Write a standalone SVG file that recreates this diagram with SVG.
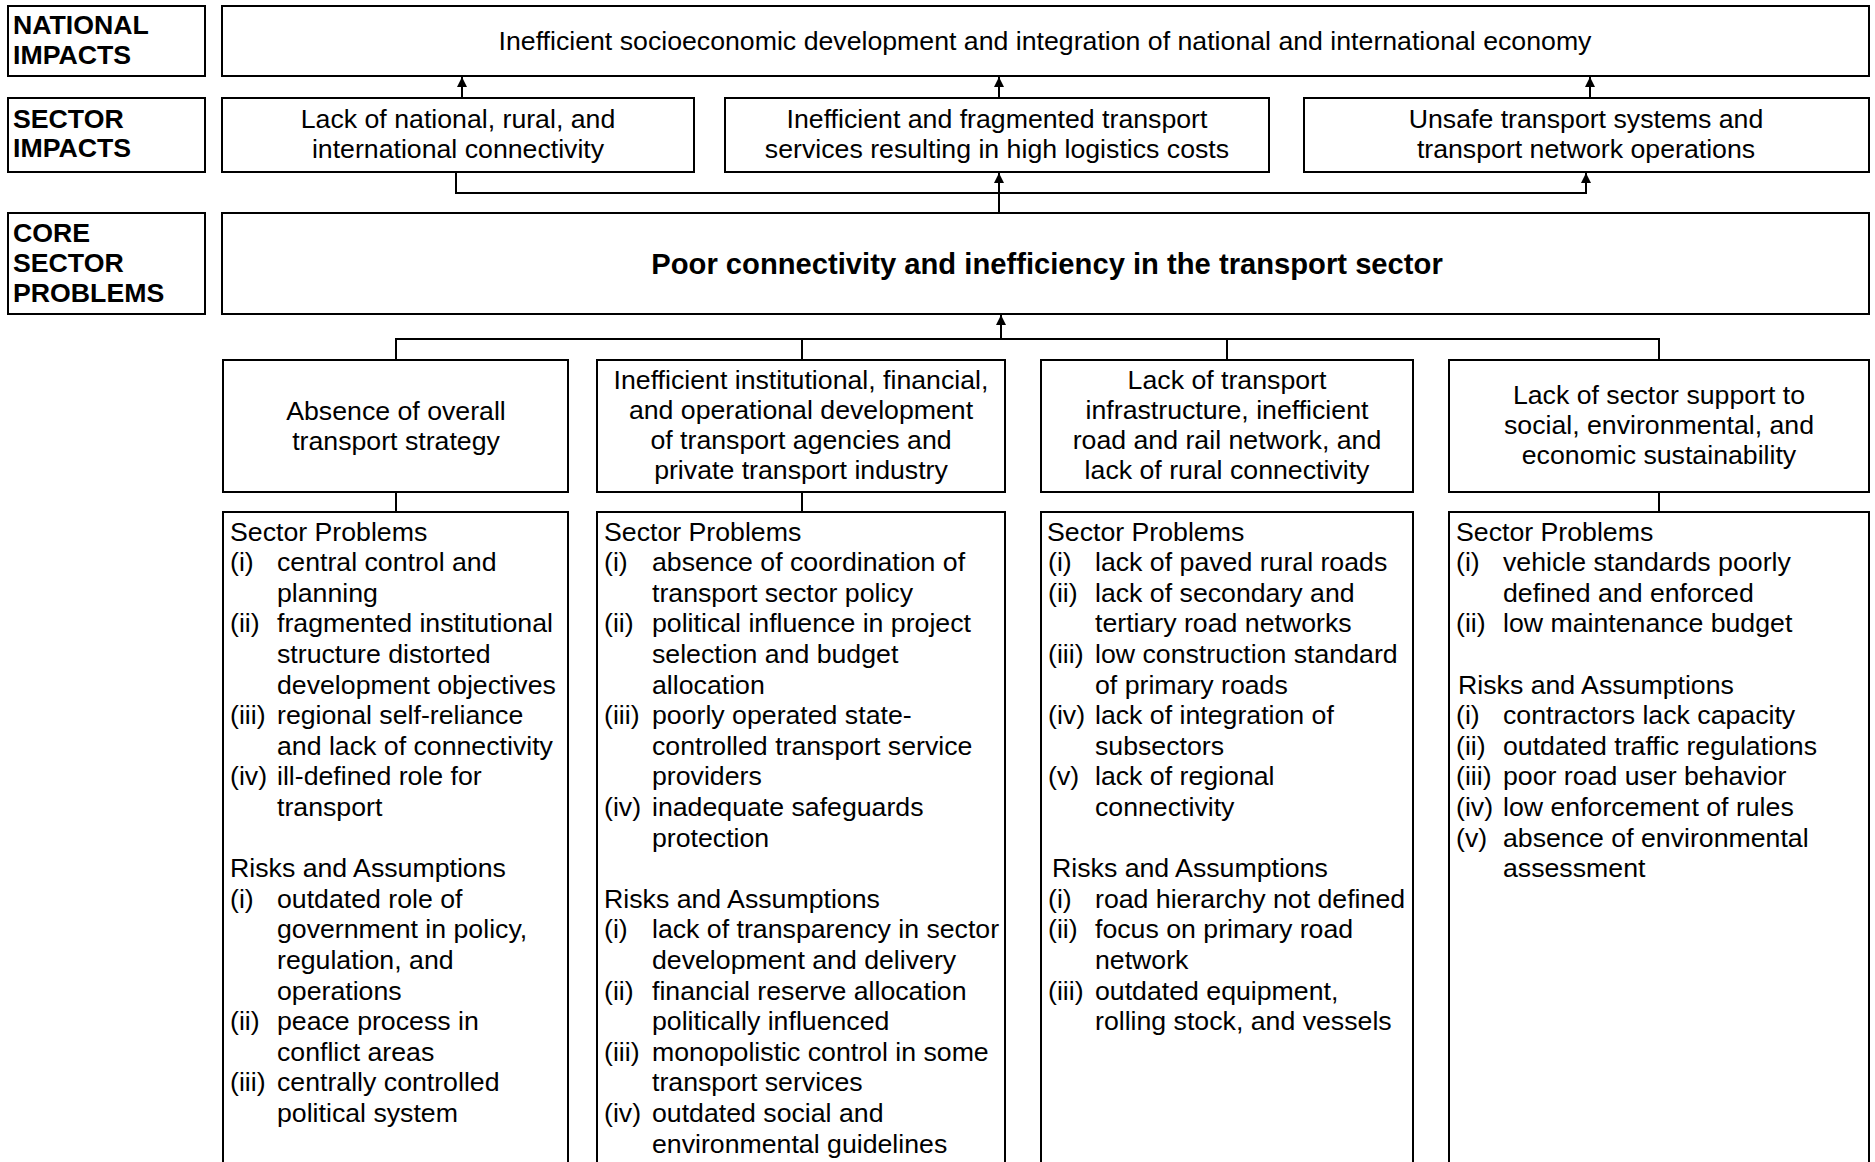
<svg xmlns="http://www.w3.org/2000/svg" width="1875" height="1162" viewBox="0 0 1875 1162">
<style>
  .box { fill: #ffffff; stroke: #000000; stroke-width: 2; }
  .ln { fill: none; stroke: #000000; stroke-width: 2; }
  text { font-family: "Liberation Sans", Arial, sans-serif; font-size: 26.7px; fill: #000000; }
  .c { text-anchor: middle; }
  .b { font-weight: bold; }
  .core { font-weight: bold; font-size: 29.2px; }
</style>
<defs>
  <marker id="ah" viewBox="0 0 10 10" refX="10" refY="5" markerWidth="10" markerHeight="10" markerUnits="userSpaceOnUse" orient="auto">
    <path d="M0,0 L10,5 L0,10 Z" fill="#000000"/>
  </marker>
</defs>
<rect width="1875" height="1162" fill="#ffffff"/>

<g id="connectors">
  <line class="ln" x1="462" y1="98" x2="462" y2="77" marker-end="url(#ah)"/>
  <line class="ln" x1="999" y1="98" x2="999" y2="77" marker-end="url(#ah)"/>
  <line class="ln" x1="1590" y1="98" x2="1590" y2="77" marker-end="url(#ah)"/>
  <polyline class="ln" points="456,173 456,193 1586,193 1586,173" marker-start="url(#ah)" marker-end="url(#ah)"/>
  <line class="ln" x1="999" y1="213" x2="999" y2="173" marker-end="url(#ah)"/>
  <line class="ln" x1="1001" y1="339" x2="1001" y2="315" marker-end="url(#ah)"/>
  <polyline class="ln" points="396,360 396,339 1659,339 1659,360"/>
  <line class="ln" x1="802" y1="339" x2="802" y2="360"/>
  <line class="ln" x1="1227" y1="339" x2="1227" y2="360"/>
  <line class="ln" x1="396" y1="492" x2="396" y2="512"/>
  <line class="ln" x1="802" y1="492" x2="802" y2="512"/>
  <line class="ln" x1="1659" y1="492" x2="1659" y2="512"/>
</g>

<g id="label-national">
  <rect class="box" x="8" y="6" width="197" height="70"/>
  <text class="b" x="13" y="34">NATIONAL</text>
  <text class="b" x="13" y="64">IMPACTS</text>
</g>
<g id="label-sector">
  <rect class="box" x="8" y="98" width="197" height="74"/>
  <text class="b" x="13" y="128">SECTOR</text>
  <text class="b" x="13" y="157">IMPACTS</text>
</g>
<g id="label-core">
  <rect class="box" x="8" y="213" width="197" height="101"/>
  <text class="b" x="13" y="242">CORE</text>
  <text class="b" x="13" y="272">SECTOR</text>
  <text class="b" x="13" y="302">PROBLEMS</text>
</g>

<g id="national-impact">
  <rect class="box" x="222" y="6" width="1647" height="70"/>
  <text class="c" x="1045" y="50">Inefficient socioeconomic development and integration of national and international economy</text>
</g>

<g id="sector-impact-1">
  <rect class="box" x="222" y="98" width="472" height="74"/>
  <text class="c" x="458" y="128">Lack of national, rural, and</text>
  <text class="c" x="458" y="158">international connectivity</text>
</g>
<g id="sector-impact-2">
  <rect class="box" x="725" y="98" width="544" height="74"/>
  <text class="c" x="997" y="128">Inefficient and fragmented transport</text>
  <text class="c" x="997" y="158">services resulting in high logistics costs</text>
</g>
<g id="sector-impact-3">
  <rect class="box" x="1304" y="98" width="565" height="74"/>
  <text class="c" x="1586" y="128">Unsafe transport systems and</text>
  <text class="c" x="1586" y="158">transport network operations</text>
</g>

<g id="core-problem">
  <rect class="box" x="222" y="213" width="1647" height="101"/>
  <text class="c core" x="1047" y="274">Poor connectivity and inefficiency in the transport sector</text>
</g>

<g id="cause-1">
  <rect class="box" x="223" y="360" width="345" height="132"/>
  <text class="c" x="396" y="420">Absence of overall</text>
  <text class="c" x="396" y="450">transport strategy</text>
</g>
<g id="cause-2">
  <rect class="box" x="597" y="360" width="408" height="132"/>
  <text class="c" x="801" y="389">Inefficient institutional, financial,</text>
  <text class="c" x="801" y="419">and operational development</text>
  <text class="c" x="801" y="449">of transport agencies and</text>
  <text class="c" x="801" y="479">private transport industry</text>
</g>
<g id="cause-3">
  <rect class="box" x="1041" y="360" width="372" height="132"/>
  <text class="c" x="1227" y="389">Lack of transport</text>
  <text class="c" x="1227" y="419">infrastructure, inefficient</text>
  <text class="c" x="1227" y="449">road and rail network, and</text>
  <text class="c" x="1227" y="479">lack of rural connectivity</text>
</g>
<g id="cause-4">
  <rect class="box" x="1449" y="360" width="420" height="132"/>
  <text class="c" x="1659" y="404">Lack of sector support to</text>
  <text class="c" x="1659" y="434">social, environmental, and</text>
  <text class="c" x="1659" y="464">economic sustainability</text>
</g>

<g id="details-1">
  <rect class="box" x="223" y="512" width="345" height="670"/>
  <text x="230" y="540.5">Sector Problems</text>
  <text x="230" y="571.1">(i)</text><text x="277" y="571.1">central control and</text>
  <text x="277" y="601.7">planning</text>
  <text x="230" y="632.3">(ii)</text><text x="277" y="632.3">fragmented institutional</text>
  <text x="277" y="662.9">structure distorted</text>
  <text x="277" y="693.5">development objectives</text>
  <text x="230" y="724.1">(iii)</text><text x="277" y="724.1">regional self-reliance</text>
  <text x="277" y="754.7">and lack of connectivity</text>
  <text x="230" y="785.3">(iv)</text><text x="277" y="785.3">ill-defined role for</text>
  <text x="277" y="815.9">transport</text>
  <text x="230" y="877.1">Risks and Assumptions</text>
  <text x="230" y="907.7">(i)</text><text x="277" y="907.7">outdated role of</text>
  <text x="277" y="938.3">government in policy,</text>
  <text x="277" y="968.9">regulation, and</text>
  <text x="277" y="999.5">operations</text>
  <text x="230" y="1030.1">(ii)</text><text x="277" y="1030.1">peace process in</text>
  <text x="277" y="1060.7">conflict areas</text>
  <text x="230" y="1091.3">(iii)</text><text x="277" y="1091.3">centrally controlled</text>
  <text x="277" y="1121.9">political system</text>
</g>

<g id="details-2">
  <rect class="box" x="597" y="512" width="408" height="670"/>
  <text x="604" y="540.5">Sector Problems</text>
  <text x="604" y="571.1">(i)</text><text x="652" y="571.1">absence of coordination of</text>
  <text x="652" y="601.7">transport sector policy</text>
  <text x="604" y="632.3">(ii)</text><text x="652" y="632.3">political influence in project</text>
  <text x="652" y="662.9">selection and budget</text>
  <text x="652" y="693.5">allocation</text>
  <text x="604" y="724.1">(iii)</text><text x="652" y="724.1">poorly operated state-</text>
  <text x="652" y="754.7">controlled transport service</text>
  <text x="652" y="785.3">providers</text>
  <text x="604" y="815.9">(iv)</text><text x="652" y="815.9">inadequate safeguards</text>
  <text x="652" y="846.5">protection</text>
  <text x="604" y="907.7">Risks and Assumptions</text>
  <text x="604" y="938.3">(i)</text><text x="652" y="938.3">lack of transparency in sector</text>
  <text x="652" y="968.9">development and delivery</text>
  <text x="604" y="999.5">(ii)</text><text x="652" y="999.5">financial reserve allocation</text>
  <text x="652" y="1030.1">politically influenced</text>
  <text x="604" y="1060.7">(iii)</text><text x="652" y="1060.7">monopolistic control in some</text>
  <text x="652" y="1091.3">transport services</text>
  <text x="604" y="1121.9">(iv)</text><text x="652" y="1121.9">outdated social and</text>
  <text x="652" y="1152.5">environmental guidelines</text>
</g>

<g id="details-3">
  <rect class="box" x="1041" y="512" width="372" height="670"/>
  <text x="1047" y="540.5">Sector Problems</text>
  <text x="1048" y="571.1">(i)</text><text x="1095" y="571.1">lack of paved rural roads</text>
  <text x="1048" y="601.7">(ii)</text><text x="1095" y="601.7">lack of secondary and</text>
  <text x="1095" y="632.3">tertiary road networks</text>
  <text x="1048" y="662.9">(iii)</text><text x="1095" y="662.9">low construction standard</text>
  <text x="1095" y="693.5">of primary roads</text>
  <text x="1048" y="724.1">(iv)</text><text x="1095" y="724.1">lack of integration of</text>
  <text x="1095" y="754.7">subsectors</text>
  <text x="1048" y="785.3">(v)</text><text x="1095" y="785.3">lack of regional</text>
  <text x="1095" y="815.9">connectivity</text>
  <text x="1052" y="877.1">Risks and Assumptions</text>
  <text x="1048" y="907.7">(i)</text><text x="1095" y="907.7">road hierarchy not defined</text>
  <text x="1048" y="938.3">(ii)</text><text x="1095" y="938.3">focus on primary road</text>
  <text x="1095" y="968.9">network</text>
  <text x="1048" y="999.5">(iii)</text><text x="1095" y="999.5">outdated equipment,</text>
  <text x="1095" y="1030.1">rolling stock, and vessels</text>
</g>

<g id="details-4">
  <rect class="box" x="1449" y="512" width="420" height="670"/>
  <text x="1456" y="540.5">Sector Problems</text>
  <text x="1456" y="571.1">(i)</text><text x="1503" y="571.1">vehicle standards poorly</text>
  <text x="1503" y="601.7">defined and enforced</text>
  <text x="1456" y="632.3">(ii)</text><text x="1503" y="632.3">low maintenance budget</text>
  <text x="1458" y="693.5">Risks and Assumptions</text>
  <text x="1456" y="724.1">(i)</text><text x="1503" y="724.1">contractors lack capacity</text>
  <text x="1456" y="754.7">(ii)</text><text x="1503" y="754.7">outdated traffic regulations</text>
  <text x="1456" y="785.3">(iii)</text><text x="1503" y="785.3">poor road user behavior</text>
  <text x="1456" y="815.9">(iv)</text><text x="1503" y="815.9">low enforcement of rules</text>
  <text x="1456" y="846.5">(v)</text><text x="1503" y="846.5">absence of environmental</text>
  <text x="1503" y="877.1">assessment</text>
</g>
</svg>
